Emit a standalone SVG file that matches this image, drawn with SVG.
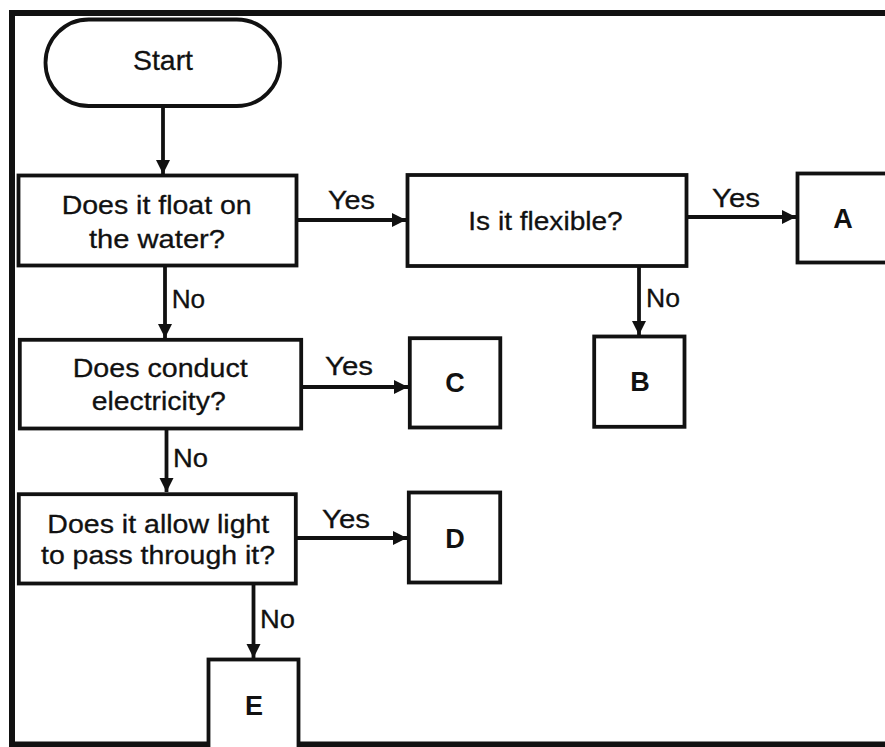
<svg xmlns="http://www.w3.org/2000/svg" width="885" height="747" viewBox="0 0 885 747">
<defs>
<style>
.box{fill:#fff;stroke:#111;stroke-width:3.8}
.t{font-family:"Liberation Sans",Arial,sans-serif;font-size:26px;fill:#111;stroke:#111;stroke-width:0.3}
.b{font-family:"Liberation Sans",Arial,sans-serif;font-size:27px;font-weight:bold;fill:#111;text-anchor:middle}
.c{stroke:#111;stroke-width:3.8;fill:none;marker-end:url(#ah)}
</style>
<marker id="ah" markerUnits="userSpaceOnUse" markerWidth="15" markerHeight="15" refX="14" refY="7" orient="auto">
<path d="M0,0 L14,7 L0,14 z" fill="#111"/>
</marker>
</defs>
<rect width="885" height="747" fill="#fff"/>
<path d="M885,13 H12 V744.5 H885" fill="none" stroke="#111" stroke-width="6"/>
<g id="connectors">
<line class="c" x1="163" y1="106" x2="163" y2="174"/>
<line class="c" x1="297" y1="220" x2="406" y2="220"/>
<line class="c" x1="687" y1="217" x2="796" y2="217"/>
<line class="c" x1="639" y1="266" x2="639" y2="335"/>
<line class="c" x1="165" y1="266" x2="165" y2="338"/>
<line class="c" x1="301" y1="387" x2="408" y2="387"/>
<line class="c" x1="166.5" y1="429" x2="166.5" y2="492"/>
<line class="c" x1="296" y1="538" x2="407" y2="538"/>
<line class="c" x1="253.5" y1="584" x2="253.5" y2="658"/>
<text class="t" x="328" y="209" textLength="47" lengthAdjust="spacingAndGlyphs">Yes</text>
<text class="t" x="712" y="207" textLength="48" lengthAdjust="spacingAndGlyphs">Yes</text>
<text class="t" x="646" y="306.7" textLength="34" lengthAdjust="spacingAndGlyphs">No</text>
<text class="t" x="171.7" y="308.3" textLength="33.5" lengthAdjust="spacingAndGlyphs">No</text>
<text class="t" x="325" y="375" textLength="48" lengthAdjust="spacingAndGlyphs">Yes</text>
<text class="t" x="173" y="467" textLength="35" lengthAdjust="spacingAndGlyphs">No</text>
<text class="t" x="322" y="528" textLength="48" lengthAdjust="spacingAndGlyphs">Yes</text>
<text class="t" x="260" y="628" textLength="35" lengthAdjust="spacingAndGlyphs">No</text>
</g>
<g id="start">
<rect class="box" x="45.5" y="19.5" width="234.5" height="86.5" rx="43.25"/>
<text class="t" x="133" y="70" style="font-size:28px" textLength="60" lengthAdjust="spacingAndGlyphs">Start</text>
</g>
<g id="q-float">
<rect class="box" x="18.5" y="175.5" width="278" height="90"/>
<text class="t" x="61.7" y="214.3" textLength="190" lengthAdjust="spacingAndGlyphs">Does it float on</text>
<text class="t" x="89" y="248.3" textLength="136" lengthAdjust="spacingAndGlyphs">the water?</text>
</g>
<g id="q-flexible">
<rect class="box" x="407.5" y="175" width="279" height="91"/>
<text class="t" x="468.3" y="230" textLength="154.4" lengthAdjust="spacingAndGlyphs">Is it flexible?</text>
</g>
<g id="A">
<rect class="box" x="797.5" y="173.5" width="100" height="89"/>
<text class="b" x="843" y="228">A</text>
</g>
<g id="B">
<rect class="box" x="594.2" y="336.5" width="90.3" height="90.3"/>
<text class="b" x="640" y="391">B</text>
</g>
<g id="q-conduct">
<rect class="box" x="19.8" y="339.8" width="281.4" height="88.7"/>
<text class="t" x="72.7" y="377" textLength="175" lengthAdjust="spacingAndGlyphs">Does conduct</text>
<text class="t" x="91.7" y="410" textLength="134" lengthAdjust="spacingAndGlyphs">electricity?</text>
</g>
<g id="C">
<rect class="box" x="409.8" y="338.2" width="90.5" height="89.3"/>
<text class="b" x="455" y="391.7">C</text>
</g>
<g id="q-light">
<rect class="box" x="18.8" y="494.2" width="277" height="89.3"/>
<text class="t" x="47.3" y="533.3" textLength="222" lengthAdjust="spacingAndGlyphs">Does it allow light</text>
<text class="t" x="41" y="564" textLength="234" lengthAdjust="spacingAndGlyphs">to pass through it?</text>
</g>
<g id="D">
<rect class="box" x="408.8" y="492.5" width="91.4" height="90"/>
<text class="b" x="455" y="548">D</text>
</g>
<g id="E">
<rect class="box" x="208.5" y="659.5" width="90" height="90"/>
<text class="b" x="254" y="715">E</text>
</g>
</svg>
